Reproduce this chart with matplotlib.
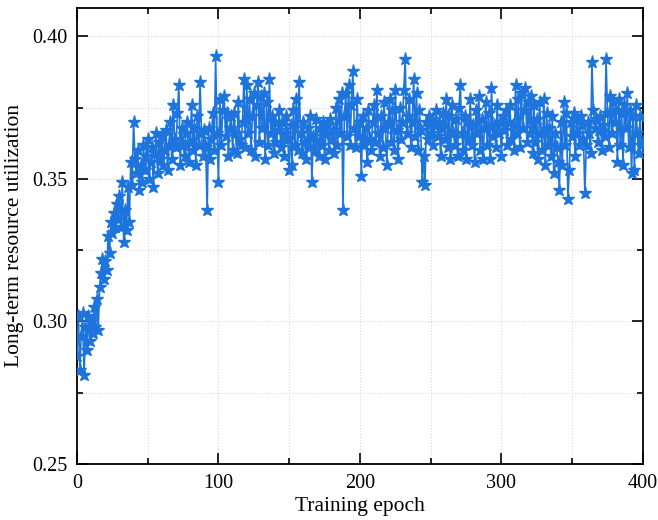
import matplotlib.pyplot as plt
from matplotlib.ticker import MultipleLocator

plt.rcParams['font.family'] = ['Liberation Serif', 'DejaVu Serif']

# long-term resource utilization, one value per training epoch (0..400)
utilization = [
    0.288, 0.302, 0.283, 0.295, 0.303, 0.281, 0.298, 0.290, 0.302, 0.293,
    0.300, 0.296, 0.305, 0.298, 0.308, 0.297, 0.312, 0.317, 0.322, 0.315,
    0.321, 0.318, 0.330, 0.324, 0.335, 0.331, 0.338, 0.333, 0.341, 0.336,
    0.344, 0.333, 0.349, 0.328, 0.339, 0.332, 0.347, 0.335, 0.356, 0.348,
    0.370, 0.357, 0.352, 0.360, 0.346, 0.355, 0.349, 0.362, 0.353, 0.358,
    0.364, 0.350, 0.356, 0.361, 0.347, 0.359, 0.366, 0.352, 0.363, 0.357,
    0.365, 0.355, 0.360, 0.367, 0.353, 0.362, 0.370, 0.357, 0.376, 0.364,
    0.361, 0.373, 0.383, 0.355, 0.368, 0.362, 0.358, 0.366, 0.370, 0.356,
    0.363, 0.376, 0.360, 0.368, 0.355, 0.372, 0.362, 0.384, 0.366, 0.358,
    0.367, 0.361, 0.339, 0.368, 0.357, 0.364, 0.373, 0.360, 0.393, 0.366,
    0.349, 0.378, 0.362, 0.374, 0.379, 0.365, 0.373, 0.358, 0.368, 0.372,
    0.360, 0.373, 0.366, 0.359, 0.377, 0.364, 0.362, 0.370, 0.385, 0.361,
    0.383, 0.366, 0.378, 0.360, 0.372, 0.380, 0.358, 0.376, 0.384, 0.363,
    0.379, 0.368, 0.380, 0.357, 0.377, 0.362, 0.385, 0.366, 0.372, 0.359,
    0.370, 0.363, 0.367, 0.374, 0.361, 0.370, 0.358, 0.366, 0.372, 0.364,
    0.353, 0.369, 0.355, 0.374, 0.362, 0.378, 0.360, 0.384, 0.366, 0.359,
    0.370, 0.363, 0.357, 0.368, 0.361, 0.372, 0.349, 0.365, 0.360, 0.371,
    0.363, 0.358, 0.368, 0.362, 0.370, 0.357, 0.366, 0.369, 0.360, 0.371,
    0.364, 0.367, 0.359, 0.375, 0.362, 0.378, 0.366, 0.380, 0.339, 0.372,
    0.380, 0.365, 0.383, 0.362, 0.376, 0.388, 0.368, 0.361, 0.378, 0.365,
    0.370, 0.351, 0.372, 0.362, 0.368, 0.356, 0.374, 0.364, 0.360, 0.370,
    0.376, 0.363, 0.381, 0.366, 0.358, 0.372, 0.361, 0.377, 0.368, 0.355,
    0.370, 0.378, 0.363, 0.374, 0.360, 0.381, 0.367, 0.357, 0.375, 0.364,
    0.370, 0.381, 0.392, 0.366, 0.372, 0.378, 0.361, 0.370, 0.385, 0.365,
    0.380, 0.360, 0.374, 0.367, 0.349, 0.358, 0.348, 0.370, 0.364, 0.372,
    0.366, 0.371, 0.362, 0.369, 0.374, 0.365, 0.370, 0.358, 0.368, 0.373,
    0.364, 0.378, 0.361, 0.372, 0.357, 0.376, 0.366, 0.362, 0.371, 0.358,
    0.375, 0.383, 0.366, 0.360, 0.372, 0.357, 0.370, 0.364, 0.378, 0.362,
    0.369, 0.356, 0.374, 0.366, 0.379, 0.360, 0.371, 0.357, 0.368, 0.377,
    0.362, 0.373, 0.357, 0.382, 0.365, 0.369, 0.361, 0.376, 0.366, 0.370,
    0.358, 0.372, 0.367, 0.374, 0.362, 0.370, 0.376, 0.364, 0.369, 0.360,
    0.383, 0.366, 0.378, 0.361, 0.380, 0.368, 0.374, 0.382, 0.363, 0.377,
    0.366, 0.379, 0.359, 0.376, 0.363, 0.371, 0.357, 0.377, 0.366, 0.360,
    0.378, 0.355, 0.373, 0.362, 0.368, 0.358, 0.372, 0.352, 0.366, 0.361,
    0.356, 0.346, 0.370, 0.355, 0.377, 0.362, 0.373, 0.343, 0.353, 0.370,
    0.365, 0.373, 0.358, 0.371, 0.366, 0.362, 0.372, 0.369, 0.364, 0.345,
    0.362, 0.370, 0.366, 0.359, 0.391, 0.374, 0.368, 0.371, 0.363, 0.367,
    0.372, 0.360, 0.369, 0.365, 0.392, 0.373, 0.361, 0.379, 0.366, 0.377,
    0.370, 0.374, 0.356, 0.378, 0.362, 0.373, 0.355, 0.376, 0.368, 0.380,
    0.361, 0.374, 0.352, 0.372, 0.353, 0.376, 0.366, 0.359, 0.372, 0.362,
    0.363,
]
epochs = list(range(len(utilization)))

fig = plt.figure(figsize=(6.58, 5.2), dpi=100)
ax = fig.add_axes([0.117, 0.108, 0.860, 0.877])

ax.plot(epochs, utilization, color='#1c74dc', linewidth=1.2,
        marker='*', markersize=9.5, zorder=3)

ax.set_xlim(0, 400)
ax.set_ylim(0.25, 0.41)
ax.xaxis.set_major_locator(MultipleLocator(100))
ax.xaxis.set_minor_locator(MultipleLocator(50))
ax.yaxis.set_major_locator(MultipleLocator(0.05))
ax.yaxis.set_minor_locator(MultipleLocator(0.025))
ax.yaxis.set_major_formatter(plt.FormatStrFormatter('%.2f'))

ax.tick_params(which='both', direction='in', top=True, right=True,
               labelsize=14.5, width=1.2, pad=7)
ax.tick_params(which='major', length=8)
ax.tick_params(which='minor', length=4)
for s in ax.spines.values():
    s.set_linewidth(1.3)

ax.grid(which='both', linestyle=':', color='#d9d9d9', linewidth=0.8, zorder=0)

ax.set_xlabel('Training epoch', fontsize=15.5, labelpad=3)
ax.set_ylabel('Long-term resource utilization', fontsize=15.5, labelpad=6)

fig.savefig('out.png', dpi=100)
